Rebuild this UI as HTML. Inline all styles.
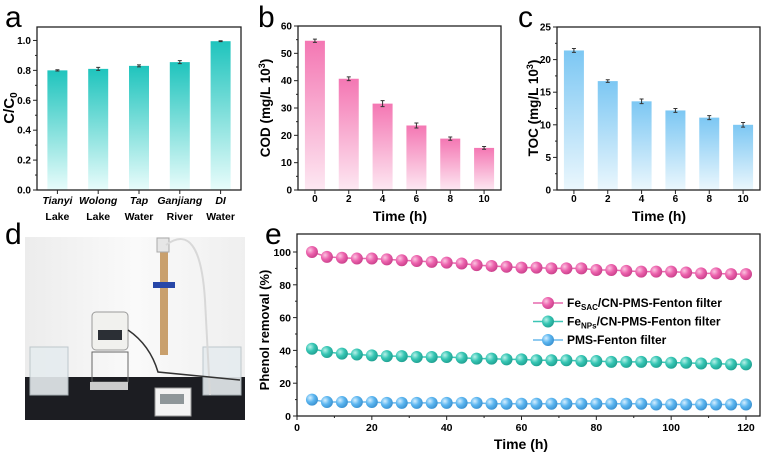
<!DOCTYPE html>
<html><head><meta charset="utf-8"><style>
body{margin:0;background:#fff;width:775px;height:459px;overflow:hidden}
svg{font-family:"Liberation Sans",sans-serif}
</style></head><body>
<svg id="s" width="775" height="459" viewBox="0 0 775 459" xmlns="http://www.w3.org/2000/svg">
<defs>
<linearGradient id="gA" x1="0" y1="0" x2="0" y2="1"><stop offset="0" stop-color="#1fc4bd"/><stop offset="1" stop-color="#e8fcfb"/></linearGradient>
<linearGradient id="gB" x1="0" y1="0" x2="0" y2="1"><stop offset="0" stop-color="#f477b3"/><stop offset="1" stop-color="#fde8f2"/></linearGradient>
<linearGradient id="gC" x1="0" y1="0" x2="0" y2="1"><stop offset="0" stop-color="#7cc7f3"/><stop offset="1" stop-color="#ebf7fd"/></linearGradient>
<radialGradient id="bP" cx="0.35" cy="0.35" r="0.7"><stop offset="0" stop-color="#fbc4e0"/><stop offset="0.5" stop-color="#ec62ad"/><stop offset="1" stop-color="#c93f8a"/></radialGradient>
<radialGradient id="bT" cx="0.35" cy="0.35" r="0.7"><stop offset="0" stop-color="#b8f1e9"/><stop offset="0.5" stop-color="#36c6b4"/><stop offset="1" stop-color="#1f9f90"/></radialGradient>
<radialGradient id="bL" cx="0.35" cy="0.35" r="0.7"><stop offset="0" stop-color="#d6efff"/><stop offset="0.5" stop-color="#5cb6f0"/><stop offset="1" stop-color="#3990cf"/></radialGradient>
<linearGradient id="wall" x1="0" y1="0" x2="1" y2="0"><stop offset="0" stop-color="#ececec"/><stop offset="0.5" stop-color="#fafafa"/><stop offset="1" stop-color="#efefef"/></linearGradient>
</defs>
<g>
<rect x="25" y="237" width="220" height="183" fill="url(#wall)"/>
<rect x="25" y="377" width="220" height="43" fill="#1c1d22"/>
<rect x="30" y="347" width="38" height="48" fill="#e6ecef" stroke="#b9c3c8" opacity="0.9"/>
<rect x="203" y="347" width="38" height="48" fill="#e6ecef" stroke="#b9c3c8" opacity="0.9"/>
<rect x="92" y="312" width="36" height="38" rx="4" fill="#f1f1ee" stroke="#9a9a9a"/>
<rect x="98" y="330" width="24" height="10" fill="#2b2f35"/>
<rect x="92" y="352" width="36" height="30" fill="none" stroke="#666"/>
<rect x="90" y="382" width="38" height="8" fill="#ccc"/>
<rect x="160" y="250" width="8" height="105" fill="#c9a06d"/>
<rect x="157" y="238" width="12" height="14" fill="#e6e6e6" stroke="#aaa"/>
<rect x="153" y="282" width="22" height="6" fill="#2747a8"/>
<path d="M166 245 Q200 220 205 300 L210 395" fill="none" stroke="#d8d8d8" stroke-width="2"/>
<path d="M128 330 Q150 345 158 372 L240 380" fill="none" stroke="#333" stroke-width="1.5"/>
<rect x="155" y="388" width="36" height="28" fill="#f3f3f3" stroke="#999"/>
<rect x="160" y="394" width="24" height="10" fill="#8e9699"/>
</g>
<g id="ga"></g><g id="gb"></g><g id="gc"></g><g id="ge"></g>
<text x="5" y="27" font-size="30">a</text>
<text x="258" y="27" font-size="30">b</text>
<text x="518" y="27" font-size="30">c</text>
<text x="5" y="244" font-size="30">d</text>
<text x="265" y="244" font-size="30">e</text>
</svg>
<script>
const NS="http://www.w3.org/2000/svg";
function mk(p,t,a,txt){const e=document.createElementNS(NS,t);for(const k in a)e.setAttribute(k,a[k]);if(txt!==undefined)e.textContent=txt;p.appendChild(e);return e;}

// Panel a data
const aCats1=["Tianyi","Wolong","Tap","Ganjiang","DI"];
const aCats2=["Lake","Lake","Water","River","Water"];
const aVals=[0.80,0.81,0.83,0.855,0.995];
const aErr=[0.004,0.01,0.007,0.01,0.003];
const aTicks=[0,0.2,0.4,0.6,0.8,1.0];
// Panel b data
const bCats=["0","2","4","6","8","10"];
const bVals=[54.6,40.7,31.6,23.6,18.8,15.4];
const bErr=[0.6,0.7,1.1,0.9,0.6,0.5];
const bTicks=[0,10,20,30,40,50,60];
// Panel c data
const cCats=["0","2","4","6","8","10"];
const cVals=[21.4,16.7,13.6,12.2,11.1,10.0];
const cErr=[0.3,0.2,0.35,0.3,0.3,0.35];
const cTicks=[0,5,10,15,20,25];
// Panel e data
const eTimes=[4,8,12,16,20,24,28,32,36,40,44,48,52,56,60,64,68,72,76,80,84,88,92,96,100,104,108,112,116,120];
const eSac=[100,97,96.5,96,96,95.5,95,94.5,94,93.5,93,92,91.5,91,90.5,90.5,90,90,90,89,89,88.5,88,88,88,87.5,87,87,86.5,86.5];
const eNps=[41,39,38,37.5,37,36.5,36.5,36,36,36,35.5,35,35,34.5,34.5,34,34,34,33.5,33.5,33,33,33,33,32.5,32.5,32,32,31.5,31.5];
const ePms=[10,8.5,8.5,8.5,8.5,8,8,8,8,8,8,8,7.5,7.5,7.5,7.5,7.5,7.5,7.5,7.5,7.5,7.5,7.5,7,7,7,7,7,7,7];
const eXTicks=[0,20,40,60,80,100,120];
const eYTicks=[0,20,40,60,80,100];

function barChart(g,o){
  const {x0,x1,y0,y1,ymax,cats,vals,err,ticks,fill,fmt,name}=o;
  const Y=v=>y0-(v/ymax)*(y0-y1);
  const n=cats.length, step=(x1-x0)/n;
  const X=i=>x0+step*(i+0.5);
  vals.forEach((v,i)=>{
    const r=mk(g,'rect',{x:X(i)-o.bw/2,y:Y(v),width:o.bw,height:y0-Y(v),fill:fill});
    
    
    const e=err[i];
    mk(g,'path',{d:`M${X(i)} ${Y(v+e)}V${Y(v-e)}M${X(i)-2} ${Y(v+e)}h4M${X(i)-2} ${Y(v-e)}h4`,stroke:'#333','stroke-width':1,fill:'none'});
  });
  const ax=mk(g,'rect',{x:x0,y:y1,width:x1-x0,height:y0-y1,fill:'none',stroke:'#222','stroke-width':1.3});
  
  
  ticks.forEach((t,i)=>{
    mk(g,'line',{x1:x0-4,x2:x0,y1:Y(t),y2:Y(t),stroke:'#222'});
    if(i<ticks.length-1) mk(g,'line',{x1:x0-2,x2:x0,y1:Y((t+ticks[i+1])/2),y2:Y((t+ticks[i+1])/2),stroke:'#222'});
    const tl=mk(g,'text',{x:x0-6,y:Y(t)+3.5,'font-size':10,'font-weight':'bold','text-anchor':'end'},fmt(t));
    
    
  });
  cats.forEach((c,i)=>mk(g,'line',{x1:X(i),x2:X(i),y1:y0,y2:y0+4,stroke:'#222'}));
  return {X,Y};
}

// a
(function(){
  const g=document.getElementById('ga');
  const r=barChart(g,{x0:37,x1:241,y0:190,y1:27,ymax:1.09,cats:aCats1,vals:aVals,err:aErr,ticks:aTicks,fill:'url(#gA)',bw:20,fmt:t=>t.toFixed(1),name:'a'});
  aCats1.forEach((c,i)=>{
    const t=mk(g,'text',{x:r.X(i),y:204,'font-size':10.5,'font-weight':'bold','font-style':'italic','text-anchor':'middle'},c);
     
    mk(g,'text',{x:r.X(i),y:220,'font-size':10.5,'font-weight':'bold','text-anchor':'middle'},aCats2[i]);
  });
  const t=mk(g,'text',{transform:'translate(14,108) rotate(-90)','font-size':15,'font-weight':'bold','text-anchor':'middle'});
   
  t.innerHTML='C/C<tspan font-size="10" dy="3">0</tspan>';
})();
// b
(function(){
  const g=document.getElementById('gb');
  const r=barChart(g,{x0:298,x1:501,y0:190,y1:26,ymax:60,cats:bCats,vals:bVals,err:bErr,ticks:bTicks,fill:'url(#gB)',bw:20,fmt:t=>String(t),name:'b'});
  bCats.forEach((c,i)=>mk(g,'text',{x:r.X(i),y:202,'font-size':10,'font-weight':'bold','text-anchor':'middle'},c));
  const xt=mk(g,'text',{x:400,y:221,'font-size':14,'font-weight':'bold','text-anchor':'middle'},'Time (h)');
   
  const t=mk(g,'text',{transform:'translate(270,108) rotate(-90)','font-size':13.5,'font-weight':'bold','text-anchor':'middle'});
   
  t.innerHTML='COD (mg/L 10<tspan font-size="9" dy="-5">3</tspan><tspan dy="5">)</tspan>';
})();
// c
(function(){
  const g=document.getElementById('gc');
  const r=barChart(g,{x0:557,x1:760,y0:190,y1:27,ymax:25,cats:cCats,vals:cVals,err:cErr,ticks:cTicks,fill:'url(#gC)',bw:20,fmt:t=>String(t),name:'c'});
  cCats.forEach((c,i)=>mk(g,'text',{x:r.X(i),y:202,'font-size':10,'font-weight':'bold','text-anchor':'middle'},c));
  const xt=mk(g,'text',{x:659,y:221,'font-size':14,'font-weight':'bold','text-anchor':'middle'},'Time (h)');
   
  const t=mk(g,'text',{transform:'translate(538,108) rotate(-90)','font-size':13.5,'font-weight':'bold','text-anchor':'middle'});
   
  t.innerHTML='TOC (mg/L 10<tspan font-size="9" dy="-5">3</tspan><tspan dy="5">)</tspan>';
})();
// e
(function(){
  const g=document.getElementById('ge');
  const x0=297,x1=760,y0=416,y1=234;
  const X=v=>x0+v*(746-x0)/120;
  const Y=v=>y0-v*(y0-252)/100;
  const ax=mk(g,'rect',{x:x0,y:y1,width:x1-x0,height:y0-y1,fill:'none',stroke:'#222','stroke-width':1.3});
   
  eXTicks.forEach((t,i)=>{
    mk(g,'line',{x1:X(t),x2:X(t),y1:y0,y2:y0+4,stroke:'#222'});
    if(i<eXTicks.length-1) mk(g,'line',{x1:X(t+10),x2:X(t+10),y1:y0,y2:y0+2,stroke:'#222'});
    const l=mk(g,'text',{x:X(t),y:y0+15,'font-size':10.5,'font-weight':'bold','text-anchor':'middle'},t);
     
  });
  eYTicks.forEach((t,i)=>{
    mk(g,'line',{x1:x0-4,x2:x0,y1:Y(t),y2:Y(t),stroke:'#222'});
    if(i<eYTicks.length-1) mk(g,'line',{x1:x0-2,x2:x0,y1:Y(t+10),y2:Y(t+10),stroke:'#222'});
    const l=mk(g,'text',{x:x0-6,y:Y(t)+4,'font-size':10.5,'font-weight':'bold','text-anchor':'end'},t);
     
  });
  const xt=mk(g,'text',{x:521,y:449,'font-size':14,'font-weight':'bold','text-anchor':'middle'},'Time (h)');
   
  const yt=mk(g,'text',{transform:'translate(269,330) rotate(-90)','font-size':13,'font-weight':'bold','text-anchor':'middle'},'Phenol removal (%)');
   
  const series=[[eSac,'#e569ad','url(#bP)','fe-sac'],[eNps,'#3cc5b5','url(#bT)','fe-nps'],[ePms,'#6ab8ec','url(#bL)','pms']];
  series.forEach(([vals,col,grad,nm])=>{
    const ln=mk(g,'polyline',{points:vals.map((v,i)=>X(eTimes[i])+','+Y(v)).join(' '),fill:'none',stroke:col,'stroke-width':1.5});
     
    vals.forEach((v,i)=>{
      const c=mk(g,'circle',{cx:X(eTimes[i]),cy:Y(v),r:6,fill:grad});
       
    });
  });
  const leg=[['url(#bP)','#e569ad','Fe<tspan font-size="8" dy="3">SAC</tspan><tspan dy="-3">/CN-PMS-Fenton filter</tspan>'],
             ['url(#bT)','#3cc5b5','Fe<tspan font-size="8" dy="3">NPs</tspan><tspan dy="-3">/CN-PMS-Fenton filter</tspan>'],
             ['url(#bL)','#6ab8ec','PMS-Fenton filter']];
  leg.forEach(([gr,col,txt],i)=>{
    const y=303+i*18.5;
    const lg=mk(g,'g',{});
     
    mk(lg,'line',{x1:533,x2:563,y1:y,y2:y,stroke:col,'stroke-width':1.5});
    mk(lg,'circle',{cx:548,cy:y,r:6,fill:gr});
    const t=mk(lg,'text',{x:567,y:y+4,'font-size':12,'font-weight':'bold'});
    t.innerHTML=txt;
  });
})();
</script>
</body></html>
